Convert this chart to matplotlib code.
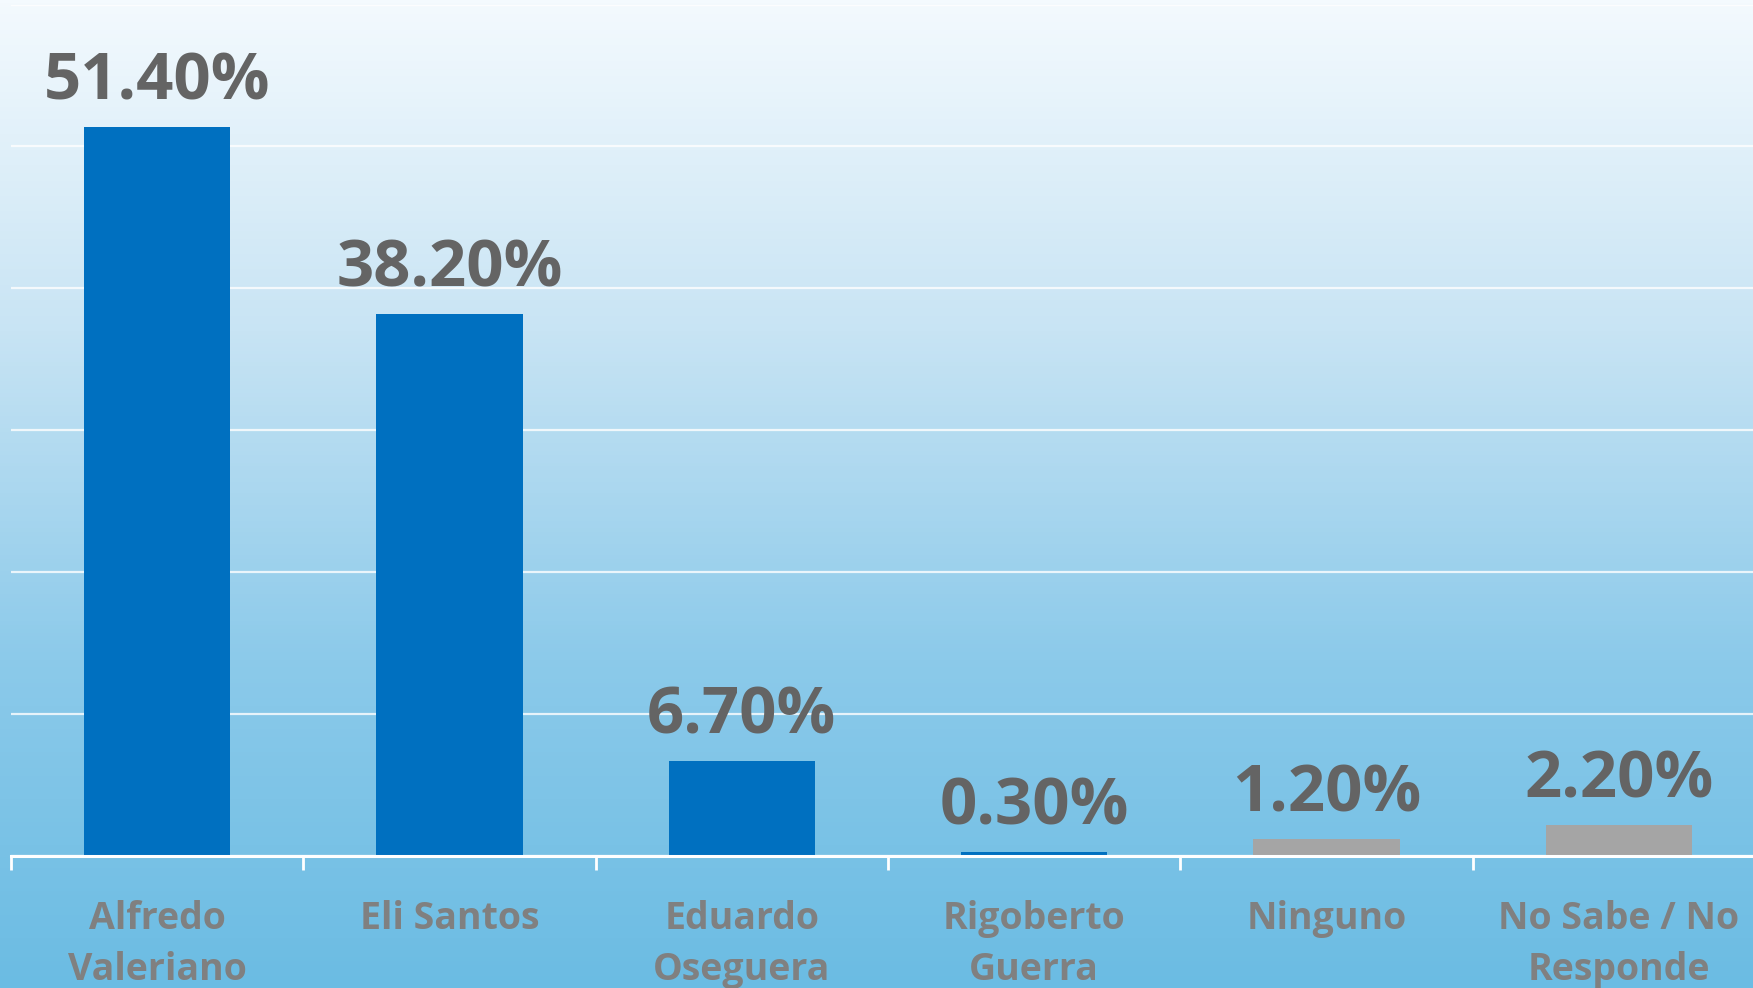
import numpy as np
import matplotlib.pyplot as plt
from matplotlib.colors import LinearSegmentedColormap

categories = ["Alfredo\nValeriano", "Eli Santos", "Eduardo\nOseguera",
              "Rigoberto\nGuerra", "Ninguno", "No Sabe / No\nResponde"]
values = [51.4, 38.2, 6.7, 0.3, 1.2, 2.2]
bar_colors = ["#0070C0", "#0070C0", "#0070C0", "#0070C0", "#A5A5A5", "#A5A5A5"]

plt.rcParams["font.family"] = ["Open Sans", "DejaVu Sans"]

fig = plt.figure(figsize=(17.53, 9.88), dpi=100)

# background gradient (light at top, sky blue at bottom)
bg = fig.add_axes([0, 0, 1, 1], zorder=0)
cmap = LinearSegmentedColormap.from_list(
    "bg", ["#F4FAFE", "#C8E4F4", "#8CCAEA", "#6BBCE3"])
grad = np.linspace(0, 1, 256).reshape(-1, 1)
bg.imshow(grad, aspect="auto", cmap=cmap, extent=[0, 1, 0, 1], origin="upper")
bg.axis("off")

ax = fig.add_axes([11 / 1753, 0.1336, 1754 / 1753, 0.8618], zorder=1)
ax.patch.set_alpha(0)

x = np.arange(len(categories))
bars = ax.bar(x, values, width=0.5, color=bar_colors, zorder=3)

ax.set_xlim(-0.5, len(categories) - 0.5)
ax.set_ylim(0, 60)
ax.set_yticks(np.arange(0, 61, 10))
ax.yaxis.grid(True, color="white", linewidth=1.6, alpha=0.8, zorder=0)
ax.tick_params(axis="y", left=False, labelleft=False)

for s in ["top", "right", "left"]:
    ax.spines[s].set_visible(False)
ax.spines["bottom"].set_color("white")
ax.spines["bottom"].set_linewidth(2.2)
ax.spines["bottom"].set_zorder(4)

ax.set_xticks(x)
ax.set_xticklabels(categories, fontsize=27, fontweight="bold", color="#808080",
                   linespacing=1.42)
ax.tick_params(axis="x", length=0, pad=32)
ax.set_xticks(np.arange(-0.5, len(categories), 1), minor=True)
ax.tick_params(axis="x", which="minor", length=10, width=2, color="white")

for rect, v in zip(bars, values):
    ax.annotate(f"{v:.2f}%", (rect.get_x() + rect.get_width() / 2, v),
                xytext=(0, 8), textcoords="offset points",
                ha="center", va="bottom", fontsize=47, fontweight="bold",
                color="#646464")

fig.savefig("out.png", dpi=100)
